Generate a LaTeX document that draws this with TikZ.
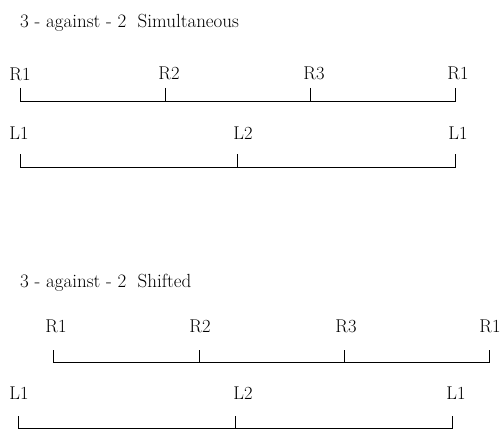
\documentclass[tikz,border=0pt]{standalone}
\begin{document}
\begin{tikzpicture}[x=1pt,y=-1pt,
  lbl/.style={inner sep=0pt,font=\fontsize{18.5}{21}\selectfont},
  ttl/.style={inner sep=0pt,anchor=base west,font=\fontsize{19}{22}\selectfont},
  bar/.style={line width=0.9pt}]
\useasboundingbox (0,0) rectangle (502,433);
% ---------- Simultaneous ----------
\node[ttl] (t1) at (20,28) {3 - against - 2\ \ Simultaneous};
\node[lbl] (r1a) at (20,74) {R1};
\node[lbl] (r2a) at (169,73) {R2};
\node[lbl] (r3a) at (314,73) {R3};
\node[lbl] (r4a) at (458,73) {R1};
\coordinate (ra1) at (20,101); \coordinate (ra1t) at (20,88);
\coordinate (ra2) at (165,101); \coordinate (ra2t) at (165,88);
\coordinate (ra3) at (310,101); \coordinate (ra3t) at (310,88);
\coordinate (ra4) at (455,101); \coordinate (ra4t) at (455,88);
\draw[bar] (ra1t) -- (ra1) -- (ra4) -- (ra4t);
\draw[bar] (ra2t) -- (ra2);
\draw[bar] (ra3t) -- (ra3);
\node[lbl] (l1a) at (19,133) {L1};
\node[lbl] (l2a) at (243,133) {L2};
\node[lbl] (l3a) at (458,133) {L1};
\coordinate (la1) at (20,167); \coordinate (la1t) at (20,154);
\coordinate (la2) at (237,167); \coordinate (la2t) at (237,154);
\coordinate (la3) at (455,167); \coordinate (la3t) at (455,154);
\draw[bar] (la1t) -- (la1) -- (la3) -- (la3t);
\draw[bar] (la2t) -- (la2);
% ---------- Shifted ----------
\node[ttl] (t2) at (20,287) {3 - against - 2\ \ Shifted};
\node[lbl] (r1b) at (56,326) {R1};
\node[lbl] (r2b) at (200,326) {R2};
\node[lbl] (r3b) at (346,326) {R3};
\node[lbl] (r4b) at (490,326) {R1};
\coordinate (rb1) at (53,362); \coordinate (rb1t) at (53,350);
\coordinate (rb2) at (199,362); \coordinate (rb2t) at (199,350);
\coordinate (rb3) at (344,362); \coordinate (rb3t) at (344,350);
\coordinate (rb4) at (489,362); \coordinate (rb4t) at (489,350);
\draw[bar] (rb1t) -- (rb1) -- (rb4) -- (rb4t);
\draw[bar] (rb2t) -- (rb2);
\draw[bar] (rb3t) -- (rb3);
\node[lbl] (l1b) at (19,393) {L1};
\node[lbl] (l2b) at (243,393) {L2};
\node[lbl] (l3b) at (456,393) {L1};
\coordinate (lb1) at (18,428); \coordinate (lb1t) at (18,416);
\coordinate (lb2) at (235,428); \coordinate (lb2t) at (235,416);
\coordinate (lb3) at (452,428); \coordinate (lb3t) at (452,416);
\draw[bar] (lb1t) -- (lb1) -- (lb3) -- (lb3t);
\draw[bar] (lb2t) -- (lb2);
\end{tikzpicture}
\end{document}
